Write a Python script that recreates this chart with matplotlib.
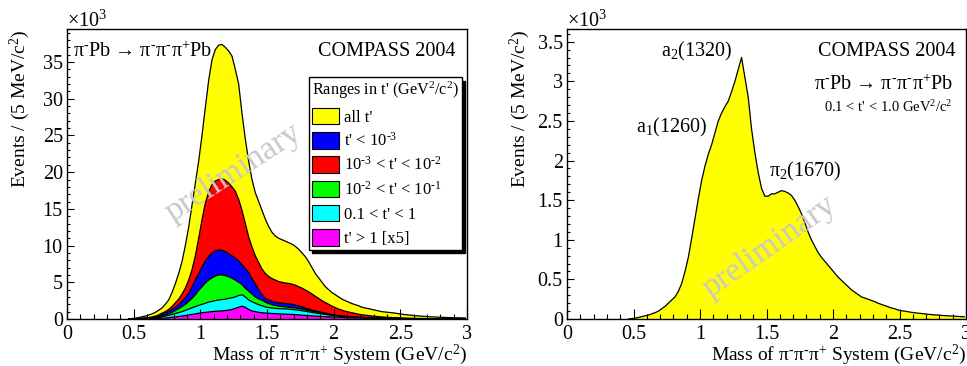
import numpy as np
import matplotlib
matplotlib.use('Agg')
import matplotlib.pyplot as plt
from matplotlib.patches import Patch
from matplotlib.ticker import MultipleLocator, FuncFormatter

plt.rcParams['font.family'] = ['Liberation Serif', 'DejaVu Serif']
plt.rcParams['mathtext.fontset'] = 'custom'
plt.rcParams['mathtext.rm'] = 'Liberation Serif'
plt.rcParams['mathtext.it'] = 'Liberation Serif:italic'
plt.rcParams['mathtext.bf'] = 'Liberation Serif:bold'

# ---------------- data (events per 5 MeV, in units of 10^3) ----------------
# values read every 25 MeV starting at 0.45 GeV/c^2
mass_start = 0.45
bin_width = 0.025

all_t = [0.0, 0.05,
         0.1, 0.2, 0.3, 0.4, 0.55, 0.7, 0.9, 1.2, 1.5, 2.0,
         2.6, 3.6, 4.8, 6.2, 7.8, 10.0, 12.5, 15.5, 18.5, 21.5,
         25.0, 28.8, 32.5, 35.3, 36.7, 37.3, 37.4, 37.0, 36.5, 35.8,
         34.0, 32.0, 28.0, 24.5, 21.5, 19.0, 17.2, 16.0, 14.8, 13.6,
         12.6, 11.8, 11.3, 11.0, 10.8, 10.6, 10.4, 10.2, 9.9, 9.5,
         9.0, 8.5, 7.8, 7.0, 6.2, 5.6, 5.0, 4.4, 4.0, 3.6,
         3.3, 3.0, 2.7, 2.5, 2.3, 2.1, 1.95, 1.8, 1.6, 1.5,
         1.4, 1.3, 1.2, 1.1, 1.0, 0.95, 0.9, 0.85, 0.8, 0.72,
         0.65, 0.6, 0.55, 0.5, 0.46, 0.42, 0.38, 0.35, 0.32, 0.29,
         0.27, 0.25, 0.23, 0.21, 0.19, 0.18, 0.17, 0.16, 0.15, 0.14]

t_lt_1e3 = [0.0, 0.02,
            0.05, 0.07, 0.1, 0.12, 0.15, 0.2, 0.3, 0.4, 0.6, 0.8,
            1.0, 1.3, 1.6, 1.95, 2.4, 2.9, 3.5, 4.4, 5.3, 6.2,
            7.1, 7.9, 8.5, 9.0, 9.3, 9.4, 9.35, 9.2, 8.9, 8.6,
            8.3, 7.9, 7.4, 6.9, 6.3, 5.5, 4.8, 4.0, 3.3, 2.8,
            2.6, 2.4, 2.3, 2.2, 2.15, 2.1, 2.05, 2.0, 1.9, 1.8,
            1.65, 1.5, 1.35, 1.2, 1.1, 1.0, 0.9, 0.8, 0.7, 0.6,
            0.5, 0.45, 0.4, 0.35, 0.3, 0.27, 0.24, 0.22, 0.2, 0.18,
            0.16, 0.14, 0.12, 0.11, 0.1, 0.09, 0.08, 0.07, 0.065, 0.06,
            0.055, 0.05, 0.045, 0.04, 0.035, 0.03, 0.028, 0.025, 0.022, 0.02,
            0.018, 0.016, 0.015, 0.014, 0.013, 0.012, 0.011, 0.01, 0.01, 0.01]

t_1e3_1e2 = [0.0, 0.03,
             0.05, 0.07, 0.1, 0.15, 0.2, 0.28, 0.4, 0.55, 0.8, 1.0,
             1.3, 1.7, 2.2, 2.7, 3.4, 4.2, 5.3, 6.7, 8.6, 11.0,
             13.5, 15.8, 17.3, 18.3, 18.8, 19.0, 19.1, 18.9, 18.5, 18.0,
             17.4, 16.3, 14.8, 13.0, 11.2, 9.8, 8.6, 7.7, 6.8, 6.2,
             5.8, 5.5, 5.3, 5.1, 5.0, 4.9, 4.85, 4.75, 4.6, 4.4,
             4.2, 3.95, 3.7, 3.4, 3.1, 2.8, 2.5, 2.25, 2.0, 1.75,
             1.55, 1.35, 1.2, 1.05, 0.95, 0.85, 0.75, 0.65, 0.58, 0.52,
             0.46, 0.41, 0.36, 0.32, 0.28, 0.25, 0.22, 0.2, 0.18, 0.16,
             0.14, 0.12, 0.11, 0.1, 0.09, 0.08, 0.07, 0.06, 0.055, 0.05,
             0.045, 0.04, 0.035, 0.03, 0.028, 0.025, 0.022, 0.02, 0.018, 0.015]

t_1e2_1e1 = [0.0, 0.01,
             0.03, 0.04, 0.06, 0.08, 0.1, 0.14, 0.2, 0.28, 0.4, 0.55,
             0.7, 0.9, 1.15, 1.4, 1.7, 2.0, 2.4, 2.8, 3.3, 3.9,
             4.4, 4.9, 5.3, 5.6, 5.85, 6.0, 6.0, 5.9, 5.75, 5.55,
             5.3, 5.0, 4.7, 4.2, 3.8, 3.4, 3.0, 2.75, 2.55, 2.3,
             2.1, 1.95, 1.85, 1.75, 1.7, 1.65, 1.6, 1.55, 1.5, 1.42,
             1.35, 1.25, 1.15, 1.05, 1.0, 0.9, 0.8, 0.72, 0.64, 0.56,
             0.5, 0.45, 0.4, 0.36, 0.32, 0.29, 0.26, 0.23, 0.21, 0.19,
             0.17, 0.15, 0.13, 0.12, 0.11, 0.1, 0.09, 0.08, 0.07, 0.065,
             0.06, 0.055, 0.05, 0.045, 0.04, 0.036, 0.032, 0.03, 0.027, 0.025,
             0.022, 0.02, 0.018, 0.017, 0.016, 0.015, 0.014, 0.013, 0.012, 0.011]

t_01_1 = [0.0, 0.01,
          0.02, 0.03, 0.05, 0.06, 0.08, 0.11, 0.15, 0.2, 0.3, 0.4,
          0.5, 0.62, 0.75, 0.87, 1.0, 1.17, 1.35, 1.52, 1.7, 1.85,
          2.0, 2.15, 2.3, 2.4, 2.5, 2.6, 2.65, 2.7, 2.8, 2.9,
          3.0, 3.2, 3.3, 3.0, 2.6, 2.35, 2.15, 1.95, 1.8, 1.65,
          1.55, 1.5, 1.45, 1.4, 1.4, 1.38, 1.35, 1.3, 1.25, 1.2,
          1.12, 1.05, 0.97, 0.9, 0.82, 0.75, 0.68, 0.62, 0.56, 0.5,
          0.45, 0.41, 0.37, 0.34, 0.31, 0.28, 0.25, 0.23, 0.21, 0.19,
          0.17, 0.15, 0.14, 0.13, 0.12, 0.11, 0.1, 0.09, 0.08, 0.075,
          0.07, 0.065, 0.06, 0.055, 0.05, 0.046, 0.042, 0.038, 0.035, 0.032,
          0.03, 0.028, 0.026, 0.024, 0.022, 0.02, 0.019, 0.018, 0.017, 0.016]

t_gt_1_x5 = [0.0, 0.005,
             0.01, 0.015, 0.02, 0.025, 0.03, 0.045, 0.06, 0.08, 0.1, 0.14,
             0.18, 0.23, 0.28, 0.34, 0.4, 0.47, 0.55, 0.62, 0.7, 0.78,
             0.85, 0.9, 0.95, 1.0, 1.05, 1.08, 1.1, 1.15, 1.2, 1.3,
             1.45, 1.6, 1.75, 1.6, 1.3, 1.1, 1.0, 0.92, 0.85, 0.81,
             0.78, 0.75, 0.72, 0.7, 0.68, 0.66, 0.64, 0.62, 0.6, 0.56,
             0.52, 0.48, 0.45, 0.42, 0.4, 0.37, 0.35, 0.32, 0.3, 0.28,
             0.26, 0.24, 0.22, 0.2, 0.18, 0.17, 0.16, 0.15, 0.14, 0.13,
             0.12, 0.11, 0.1, 0.095, 0.09, 0.085, 0.08, 0.075, 0.07, 0.065,
             0.06, 0.056, 0.052, 0.048, 0.045, 0.042, 0.04, 0.038, 0.036, 0.034,
             0.032, 0.03, 0.028, 0.026, 0.025, 0.024, 0.023, 0.022, 0.021, 0.02]

right_t_01_10 = [0.0, 0.005,
                 0.01, 0.02, 0.03, 0.04, 0.05, 0.065, 0.08, 0.1, 0.13, 0.16,
                 0.2, 0.24, 0.28, 0.35, 0.45, 0.6, 0.78, 1.02, 1.27, 1.52,
                 1.75, 1.93, 2.08, 2.2, 2.35, 2.5, 2.6, 2.68, 2.75, 2.87,
                 3.0, 3.15, 3.3, 3.05, 2.8, 2.4, 2.1, 1.85, 1.65, 1.55,
                 1.55, 1.58, 1.58, 1.6, 1.62, 1.61, 1.59, 1.56, 1.5, 1.42,
                 1.33, 1.22, 1.1, 1.0, 0.92, 0.84, 0.78, 0.73, 0.68, 0.63,
                 0.58, 0.53, 0.49, 0.45, 0.41, 0.37, 0.34, 0.31, 0.28, 0.265,
                 0.25, 0.235, 0.22, 0.2, 0.185, 0.17, 0.155, 0.14, 0.13, 0.115,
                 0.105, 0.1, 0.092, 0.085, 0.079, 0.074, 0.07, 0.065, 0.06, 0.056,
                 0.052, 0.05, 0.046, 0.043, 0.04, 0.038, 0.035, 0.033, 0.03, 0.028]

HY = '\u2010'  # short hyphen used for the superscript minus
legend_labels = ["all t'", f"t' < 10$^{{{HY}3}}$", f"10$^{{{HY}3}}$ < t' < 10$^{{{HY}2}}$",
                 f"10$^{{{HY}2}}$ < t' < 10$^{{{HY}1}}$", "0.1 < t' < 1", "t' > 1 [x5]"]
series_colors = ['#ffff00', '#0000ff', '#ff0000', '#00ff00', '#00ffff', '#ff00ff']
reaction = f'π$^{{{HY}}}$Pb → π$^{{{HY}}}$π$^{{{HY}}}$π$^{{+}}$Pb'
xlabel = f'Mass of π$^{{{HY}}}$π$^{{{HY}}}$π$^{{+}}$ System (GeV/c$^{{2}}$)'

mass = mass_start + bin_width * (np.arange(len(all_t)) + 0.5)

# ---------------- figure ----------------
W, H = 967, 366
fig = plt.figure(figsize=(W / 100, H / 100), dpi=100)
axL = fig.add_axes([67 / W, 47 / H, 400 / W, 290 / H])
axR = fig.add_axes([567 / W, 47 / H, 399 / W, 290 / H])

FS = 14.5
FL = 14
fmt = FuncFormatter(lambda v, p: f'{v:g}')

def style(ax, ymax, ymaj, ymin):
    ax.set_xlim(0, 3)
    ax.set_ylim(0, ymax)
    ax.xaxis.set_major_locator(MultipleLocator(0.5))
    ax.xaxis.set_minor_locator(MultipleLocator(0.1))
    ax.yaxis.set_major_locator(MultipleLocator(ymaj))
    ax.yaxis.set_minor_locator(MultipleLocator(ymin))
    ax.xaxis.set_major_formatter(fmt)
    ax.yaxis.set_major_formatter(fmt)
    ax.tick_params(axis='x', which='major', direction='in', length=7, width=0.8,
                   labelsize=FS, pad=4, top=False)
    ax.tick_params(axis='x', which='minor', direction='in', length=3.5, width=0.8, top=False)
    ax.tick_params(axis='y', which='major', direction='in', length=5, width=0.8,
                   labelsize=FS, pad=3, right=False)
    ax.tick_params(axis='y', which='minor', direction='in', length=2.5, width=0.8, right=False)
    for s in ax.spines.values():
        s.set_linewidth(1.0)
        s.set_color('black')
    ax.set_xlabel(xlabel, fontsize=FL, loc='right')
    ax.xaxis.set_label_coords(1.0, -0.08)
    ax.text(-0.1175, 1.0, 'Events / (5 MeV/c$^{2}$)', rotation=90, fontsize=FL,
            ha='center', va='top', transform=ax.transAxes)
    ax.text(0.0, 1.008, '×10$^{3}$', fontsize=FS, ha='left', va='baseline',
            transform=ax.transAxes)

def hist(ax, vals, col):
    ax.fill_between(mass, vals, 0, facecolor=col, linewidth=0)
    ax.plot(mass, vals, color='black', linewidth=0.9)

# ---------------- left panel ----------------
style(axL, 39.5, 5, 1)
left_series = [all_t, t_1e3_1e2, t_lt_1e3, t_1e2_1e1, t_01_1, t_gt_1_x5]
left_colors = ['#ffff00', '#ff0000', '#0000ff', '#00ff00', '#00ffff', '#ff00ff']
for vals, col in zip(left_series, left_colors):
    hist(axL, vals, col)

axL.text(0.015, 0.921, reaction, fontsize=FS,
         ha='left', va='center', transform=axL.transAxes)
axL.text(0.97, 0.921, 'COMPASS 2004', fontsize=FS, ha='right', va='center',
         transform=axL.transAxes)
axL.text(0.415, 0.503, 'preliminary', rotation=33, color='#c8c8c8', fontsize=24,
         ha='center', va='center', transform=axL.transAxes, zorder=6)

handles = [Patch(facecolor=c, edgecolor='black', linewidth=0.8) for c in series_colors]
leg = axL.legend(handles, legend_labels, title="Ranges in t' (GeV$^{2}$/c$^{2}$)",
                 loc='upper right', bbox_to_anchor=(0.9875, 0.834), borderaxespad=0,
                 fontsize=12, title_fontsize=11.7, fancybox=False, framealpha=1,
                 edgecolor='black', handlelength=1.6, handleheight=1.15,
                 handletextpad=0.3, labelspacing=0.38, borderpad=0.18,
                 alignment='left',
                 shadow={'ox': 2.5, 'oy': -2.5, 'facecolor': 'black',
                         'edgecolor': 'black', 'alpha': 1})
leg.get_frame().set_linewidth(1.0)
leg.set_zorder(7)

# ---------------- right panel ----------------
style(axR, 3.66, 0.5, 0.1)
hist(axR, right_t_01_10, '#ffff00')

axR.text(0.325, 0.921, 'a$_{2}$(1320)', fontsize=FS, ha='center', va='center',
         transform=axR.transAxes)
axR.text(0.2625, 0.662, 'a$_{1}$(1260)', fontsize=FS, ha='center', va='center',
         transform=axR.transAxes)
axR.text(0.596, 0.51, 'π$_{2}$(1670)', fontsize=FS, ha='center', va='center',
         transform=axR.transAxes)
axR.text(0.9725, 0.921, 'COMPASS 2004', fontsize=FS, ha='right', va='center',
         transform=axR.transAxes)
axR.text(0.9675, 0.807, reaction, fontsize=FS,
         ha='right', va='center', transform=axR.transAxes)
axR.text(0.965, 0.731, "0.1 < t' < 1.0 GeV$^{2}$/c$^{2}$", fontsize=10.5,
         ha='right', va='center', transform=axR.transAxes)
axR.text(0.5075, 0.248, 'preliminary', rotation=35, color='#c8c8c8', fontsize=24,
         ha='center', va='center', transform=axR.transAxes, zorder=6)

fig.savefig('out.png', dpi=100)
